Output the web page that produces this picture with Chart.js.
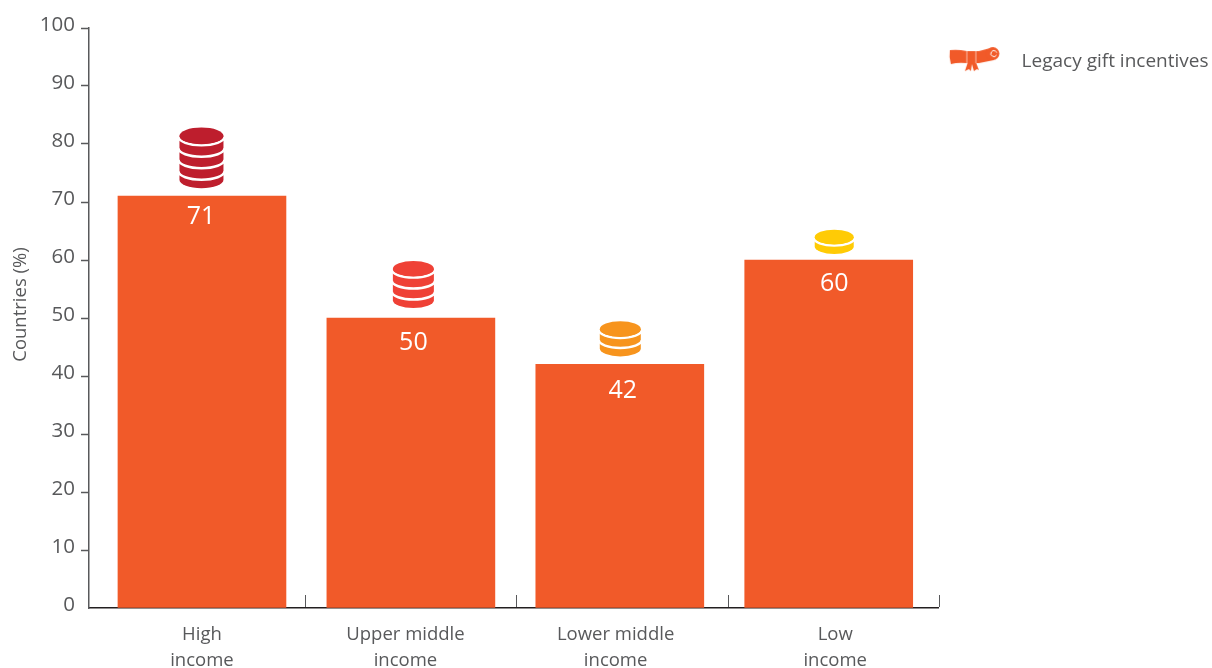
<!DOCTYPE html>
<html>
<head>
<meta charset="utf-8">
<title>Legacy gift incentives</title>
<script src="https://cdn.jsdelivr.net/npm/chart.js@4"></script>
<style>
  html, body { margin: 0; padding: 0; background: #fff; }
  #wrap { width: 1212px; height: 668px; }
</style>
</head>
<body>
<div id="wrap"><canvas id="grafico"></canvas></div>
<script>
var categorias = [['High', 'income'], ['Upper middle', 'income'], ['Lower middle', 'income'], ['Low', 'income']];
var valores = [71, 50, 42, 60];
var yTicks = [0, 10, 20, 30, 40, 50, 60, 70, 80, 90, 100];
var legendaTexto = 'Legacy gift incentives';
var yTitulo = 'Countries (%)';
var moedas = [5, 4, 3, 2];
var moedaCores = ['#be1e2d', '#ef4136', '#f7941d', '#ffcb05'];

// layout tweaks, the labels in the original are not centred on the bars
var moedaLargura = [44, 41, 41, 39];
var moedaPasso = [11.5, 11, 10, 10];
var moedaGap = [8, 10, 8, 6];
var moedaDx = [-0.5, 2.5, 0.5, 5.5];
var rotuloDx = [-1, 2.5, 3, 5.5];
var rotuloDy = [21, 25, 26, 24];
var eixoLabels = [0, 0.974, 1.98, 3.031];
var eixoMarcas = [0.493, 1.502, 2.517, 3.526];

var laranja = '#f15a29';
var cinza = '#58595b';
var fonte = '"Open Sans", sans-serif';

function iconeLegenda() {
    var c = document.createElement('canvas');
    c.width = 70;
    c.height = 30;
    var g = c.getContext('2d');
    g.translate(8, -4);
    g.fillStyle = laranja;
    // tails
    g.beginPath();
    g.moveTo(18, 20); g.lineTo(15, 29); g.lineTo(19, 27); g.lineTo(21, 29); g.lineTo(22, 22);
    g.lineTo(24, 29); g.lineTo(27, 27); g.lineTo(29, 28); g.lineTo(26, 20);
    g.closePath();
    g.fill();
    // ribbon
    g.beginPath();
    g.moveTo(0, 8);
    g.quadraticCurveTo(8, 7, 17, 9);
    g.lineTo(29, 9);
    g.lineTo(44, 5);
    g.lineTo(44, 18);
    g.lineTo(29, 21);
    g.lineTo(17, 21);
    g.quadraticCurveTo(8, 20, 1, 22);
    g.quadraticCurveTo(-1, 15, 0, 8);
    g.closePath();
    g.fill();
    g.beginPath();
    g.arc(43, 11.5, 6.5, 0, Math.PI * 2);
    g.fill();
    g.strokeStyle = '#fff';
    g.lineWidth = 1;
    g.beginPath();
    g.arc(44, 11.5, 3, 0.5, Math.PI * 1.9);
    g.stroke();
    g.globalAlpha = 0.6;
    g.beginPath();
    g.moveTo(17, 9); g.lineTo(17, 21);
    g.moveTo(26, 9); g.lineTo(26, 21);
    g.stroke();
    return c;
}

function desenhaPilha(ctx, cx, baseY, w, n, passo, cor) {
    var rx = w / 2;
    var ry = w * 0.19;
    var altura = 2 * ry + 1.5 + (n - 2) * passo + 8;
    var topoCy = baseY - altura + ry;
    var fundoCy = baseY - ry;
    ctx.fillStyle = cor;
    ctx.beginPath();
    ctx.ellipse(cx, fundoCy, rx, ry, 0, 0, Math.PI);
    ctx.lineTo(cx - rx, topoCy);
    ctx.lineTo(cx + rx, topoCy);
    ctx.closePath();
    ctx.fill();
    ctx.strokeStyle = '#fff';
    ctx.lineWidth = 2.5;
    for (var i = 0; i < n - 1; i++) {
        ctx.beginPath();
        ctx.ellipse(cx, topoCy + 1 + i * passo, rx + 1, ry, 0, 0, Math.PI);
        ctx.stroke();
    }
    ctx.beginPath();
    ctx.ellipse(cx, topoCy, rx, ry, 0, 0, Math.PI * 2);
    ctx.fill();
}

var extras = {
    id: 'extras',
    afterDatasetsDraw: function(chart) {
        var ctx = chart.ctx;
        var barras = chart.getDatasetMeta(0).data;
        var escala = chart.scales.x;
        var baseEixo = chart.scales.y.getPixelForValue(0);
        ctx.save();
        // small ticks pointing up from the x axis
        ctx.strokeStyle = cinza;
        ctx.lineWidth = 1;
        eixoMarcas.forEach(function(v) {
            var px = Math.round(escala.getPixelForValue(v)) + 0.5;
            ctx.beginPath();
            ctx.moveTo(px, baseEixo - 13);
            ctx.lineTo(px, baseEixo - 1);
            ctx.stroke();
        });
        ctx.font = '25px ' + fonte;
        ctx.textAlign = 'center';
        ctx.textBaseline = 'middle';
        barras.forEach(function(b, i) {
            desenhaPilha(ctx, b.x + moedaDx[i], b.y - moedaGap[i], moedaLargura[i], moedas[i], moedaPasso[i], moedaCores[i]);
            ctx.fillStyle = '#fff';
            ctx.fillText(String(valores[i]), b.x + rotuloDx[i], b.y + rotuloDy[i]);
        });
        // axis title sits above the middle of the axis in the original
        ctx.translate(21, 304.5);
        ctx.rotate(-Math.PI / 2);
        ctx.font = '18.5px ' + fonte;
        ctx.fillStyle = cinza;
        ctx.fillText(yTitulo, 0, 0);
        ctx.restore();
    }
};

var grafico = new Chart(document.getElementById('grafico').getContext('2d'), {
    type: 'bar',
    data: {
        datasets: [{
            label: legendaTexto,
            data: valores.map(function(v, i) { return { x: i, y: v }; }),
            backgroundColor: laranja,
            borderWidth: 0,
            barThickness: 168,
            pointStyle: iconeLegenda()
        }]
    },
    options: {
        responsive: true,
        maintainAspectRatio: false,
        animation: false,
        layout: { padding: { top: 28, left: 0, right: -6.5, bottom: 0 } },
        plugins: {
            tooltip: { enabled: false },
            legend: {
                position: 'right',
                align: 'start',
                title: { display: true, text: ' ', padding: { top: 0, bottom: 11 }, font: { size: 8 } },
                labels: {
                    usePointStyle: true,
                    pointStyleWidth: 70.5,
                    padding: 3,
                    color: cinza,
                    font: { family: fonte, size: 19 }
                }
            }
        },
        scales: {
            x: {
                type: 'linear',
                offset: false,
                min: -0.5407,
                max: 3.526,
                afterBuildTicks: function(scale) {
                    scale.ticks = eixoLabels.map(function(v) { return { value: v }; });
                },
                afterFit: function(scale) { scale.height = 60; },
                grid: { display: false, drawTicks: false },
                border: { display: true, color: '#231f20', width: 1.5 },
                ticks: {
                    autoSkip: false,
                    maxRotation: 0,
                    padding: 14,
                    color: cinza,
                    font: { family: fonte, size: 18.5, lineHeight: 1.38 },
                    callback: function(v, i) { return categorias[i]; }
                }
            },
            y: {
                min: 0,
                max: 100,
                afterBuildTicks: function(scale) {
                    scale.ticks = yTicks.map(function(v) { return { value: v }; });
                },
                afterFit: function(scale) { scale.width = 89; },
                grid: {
                    drawOnChartArea: false,
                    tickLength: 8,
                    tickWidth: 1.5,
                    tickColor: function(c) { return c.tick && c.tick.value === 0 ? 'transparent' : cinza; }
                },
                border: { color: cinza, width: 1.5 },
                ticks: {
                    padding: 6,
                    labelOffset: -3,
                    color: cinza,
                    font: { family: fonte, size: 20.5 }
                }
            }
        }
    },
    plugins: [extras]
});
</script>
</body>
</html>
